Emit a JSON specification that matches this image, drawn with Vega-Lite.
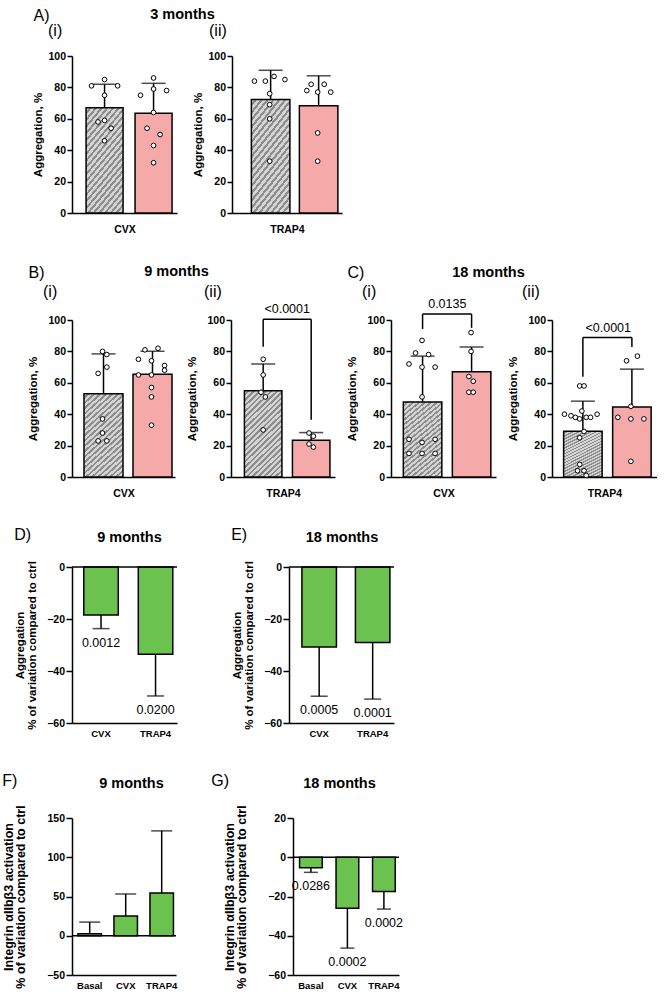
{
"$schema":"https://vega.github.io/schema/vega-lite/v6.json",
"background":"white",
"padding":{"left":2,"top":6,"right":0,"bottom":0},
"config":{
 "font":"Liberation Sans",
 "view":{"stroke":null},
 "axis":{"grid":false,"domainColor":"black","domainWidth":1.5,"tickColor":"black","tickWidth":1.5,"labelColor":"black","labelFontWeight":"bold","titleColor":"black","titleFontWeight":"bold","labelFont":"Liberation Sans","titleFont":"Liberation Sans","labelOverlap":false},
 "title":{"font":"Liberation Sans","color":"black"},
 "bar":{"stroke":"black","strokeWidth":1.5,"fill":{"gradient":"linear","x1":0,"y1":0,"x2":0.51,"y2":1.21,"stops":[
{"offset":0,"color":"#d4d4d4"},{"offset":0.025,"color":"#d4d4d4"},{"offset":0.025,"color":"#8c8c8c"},{"offset":0.0455,"color":"#8c8c8c"},
{"offset":0.0455,"color":"#d4d4d4"},{"offset":0.0705,"color":"#d4d4d4"},{"offset":0.0705,"color":"#8c8c8c"},{"offset":0.0909,"color":"#8c8c8c"},
{"offset":0.0909,"color":"#d4d4d4"},{"offset":0.1159,"color":"#d4d4d4"},{"offset":0.1159,"color":"#8c8c8c"},{"offset":0.1364,"color":"#8c8c8c"},
{"offset":0.1364,"color":"#d4d4d4"},{"offset":0.1614,"color":"#d4d4d4"},{"offset":0.1614,"color":"#8c8c8c"},{"offset":0.1818,"color":"#8c8c8c"},
{"offset":0.1818,"color":"#d4d4d4"},{"offset":0.2068,"color":"#d4d4d4"},{"offset":0.2068,"color":"#8c8c8c"},{"offset":0.2273,"color":"#8c8c8c"},
{"offset":0.2273,"color":"#d4d4d4"},{"offset":0.2523,"color":"#d4d4d4"},{"offset":0.2523,"color":"#8c8c8c"},{"offset":0.2727,"color":"#8c8c8c"},
{"offset":0.2727,"color":"#d4d4d4"},{"offset":0.2977,"color":"#d4d4d4"},{"offset":0.2977,"color":"#8c8c8c"},{"offset":0.3182,"color":"#8c8c8c"},
{"offset":0.3182,"color":"#d4d4d4"},{"offset":0.3432,"color":"#d4d4d4"},{"offset":0.3432,"color":"#8c8c8c"},{"offset":0.3636,"color":"#8c8c8c"},
{"offset":0.3636,"color":"#d4d4d4"},{"offset":0.3886,"color":"#d4d4d4"},{"offset":0.3886,"color":"#8c8c8c"},{"offset":0.4091,"color":"#8c8c8c"},
{"offset":0.4091,"color":"#d4d4d4"},{"offset":0.4341,"color":"#d4d4d4"},{"offset":0.4341,"color":"#8c8c8c"},{"offset":0.4545,"color":"#8c8c8c"},
{"offset":0.4545,"color":"#d4d4d4"},{"offset":0.4795,"color":"#d4d4d4"},{"offset":0.4795,"color":"#8c8c8c"},{"offset":0.5,"color":"#8c8c8c"},
{"offset":0.5,"color":"#d4d4d4"},{"offset":0.525,"color":"#d4d4d4"},{"offset":0.525,"color":"#8c8c8c"},{"offset":0.5455,"color":"#8c8c8c"},
{"offset":0.5455,"color":"#d4d4d4"},{"offset":0.5705,"color":"#d4d4d4"},{"offset":0.5705,"color":"#8c8c8c"},{"offset":0.5909,"color":"#8c8c8c"},
{"offset":0.5909,"color":"#d4d4d4"},{"offset":0.6159,"color":"#d4d4d4"},{"offset":0.6159,"color":"#8c8c8c"},{"offset":0.6364,"color":"#8c8c8c"},
{"offset":0.6364,"color":"#d4d4d4"},{"offset":0.6614,"color":"#d4d4d4"},{"offset":0.6614,"color":"#8c8c8c"},{"offset":0.6818,"color":"#8c8c8c"},
{"offset":0.6818,"color":"#d4d4d4"},{"offset":0.7068,"color":"#d4d4d4"},{"offset":0.7068,"color":"#8c8c8c"},{"offset":0.7273,"color":"#8c8c8c"},
{"offset":0.7273,"color":"#d4d4d4"},{"offset":0.7523,"color":"#d4d4d4"},{"offset":0.7523,"color":"#8c8c8c"},{"offset":0.7727,"color":"#8c8c8c"},
{"offset":0.7727,"color":"#d4d4d4"},{"offset":0.7977,"color":"#d4d4d4"},{"offset":0.7977,"color":"#8c8c8c"},{"offset":0.8182,"color":"#8c8c8c"},
{"offset":0.8182,"color":"#d4d4d4"},{"offset":0.8432,"color":"#d4d4d4"},{"offset":0.8432,"color":"#8c8c8c"},{"offset":0.8636,"color":"#8c8c8c"},
{"offset":0.8636,"color":"#d4d4d4"},{"offset":0.8886,"color":"#d4d4d4"},{"offset":0.8886,"color":"#8c8c8c"},{"offset":0.9091,"color":"#8c8c8c"},
{"offset":0.9091,"color":"#d4d4d4"},{"offset":0.9341,"color":"#d4d4d4"},{"offset":0.9341,"color":"#8c8c8c"},{"offset":0.9545,"color":"#8c8c8c"},
{"offset":0.9545,"color":"#d4d4d4"},{"offset":0.9795,"color":"#d4d4d4"},{"offset":0.9795,"color":"#8c8c8c"},{"offset":1,"color":"#8c8c8c"}
]}}
},
"datasets":{
 "bars":[
  {"panel":"A1","grp":"ctrl","mean":67,"sd_end":82},
  {"panel":"A1","grp":"treated","mean":63.5,"sd_end":82.6},
  {"panel":"A2","grp":"ctrl","mean":72.3,"sd_end":90.9},
  {"panel":"A2","grp":"treated","mean":68.3,"sd_end":87.4},
  {"panel":"B1","grp":"ctrl","mean":53,"sd_end":78.4},
  {"panel":"B1","grp":"treated","mean":65.4,"sd_end":80.1},
  {"panel":"B2","grp":"ctrl","mean":55,"sd_end":72},
  {"panel":"B2","grp":"treated","mean":23.4,"sd_end":28.3},
  {"panel":"C1","grp":"ctrl","mean":47.8,"sd_end":77},
  {"panel":"C1","grp":"treated","mean":67.1,"sd_end":82.8},
  {"panel":"C2","grp":"ctrl","mean":29.2,"sd_end":48.3},
  {"panel":"C2","grp":"treated","mean":44.6,"sd_end":68.7}
 ],
 "points":[
  {"panel":"A1","grp":"ctrl","value":81,"slot":-6},{"panel":"A1","grp":"ctrl","value":85,"slot":0},{"panel":"A1","grp":"ctrl","value":81,"slot":6},{"panel":"A1","grp":"ctrl","value":75,"slot":0},{"panel":"A1","grp":"ctrl","value":59,"slot":0},{"panel":"A1","grp":"ctrl","value":58,"slot":-3},{"panel":"A1","grp":"ctrl","value":54,"slot":3},{"panel":"A1","grp":"ctrl","value":46,"slot":0},
  {"panel":"A1","grp":"treated","value":75,"slot":-6},{"panel":"A1","grp":"treated","value":86,"slot":0},{"panel":"A1","grp":"treated","value":79,"slot":0},{"panel":"A1","grp":"treated","value":78,"slot":6},{"panel":"A1","grp":"treated","value":64,"slot":0},{"panel":"A1","grp":"treated","value":54,"slot":-3},{"panel":"A1","grp":"treated","value":50,"slot":3},{"panel":"A1","grp":"treated","value":43,"slot":0},{"panel":"A1","grp":"treated","value":32,"slot":0},
  {"panel":"A2","grp":"ctrl","value":84,"slot":-7},{"panel":"A2","grp":"ctrl","value":84,"slot":-2},{"panel":"A2","grp":"ctrl","value":87,"slot":2},{"panel":"A2","grp":"ctrl","value":85,"slot":7},{"panel":"A2","grp":"ctrl","value":76,"slot":0},{"panel":"A2","grp":"ctrl","value":69,"slot":0},{"panel":"A2","grp":"ctrl","value":60,"slot":0},{"panel":"A2","grp":"ctrl","value":33,"slot":0},
  {"panel":"A2","grp":"treated","value":78,"slot":-5},{"panel":"A2","grp":"treated","value":82,"slot":-3},{"panel":"A2","grp":"treated","value":77,"slot":0},{"panel":"A2","grp":"treated","value":82,"slot":3},{"panel":"A2","grp":"treated","value":77,"slot":6},{"panel":"A2","grp":"treated","value":51,"slot":0},{"panel":"A2","grp":"treated","value":33,"slot":0},
  {"panel":"B1","grp":"ctrl","value":80,"slot":0},{"panel":"B1","grp":"ctrl","value":78,"slot":2},{"panel":"B1","grp":"ctrl","value":70,"slot":2},{"panel":"B1","grp":"ctrl","value":66,"slot":-2},{"panel":"B1","grp":"ctrl","value":37,"slot":0},{"panel":"B1","grp":"ctrl","value":28,"slot":0},{"panel":"B1","grp":"ctrl","value":23,"slot":-2},{"panel":"B1","grp":"ctrl","value":23,"slot":2},
  {"panel":"B1","grp":"treated","value":81,"slot":-3},{"panel":"B1","grp":"treated","value":82,"slot":3},{"panel":"B1","grp":"treated","value":75,"slot":-6},{"panel":"B1","grp":"treated","value":74,"slot":0},{"panel":"B1","grp":"treated","value":71,"slot":6},{"panel":"B1","grp":"treated","value":68,"slot":6},{"panel":"B1","grp":"treated","value":65,"slot":-6},{"panel":"B1","grp":"treated","value":65,"slot":0},{"panel":"B1","grp":"treated","value":57,"slot":0},{"panel":"B1","grp":"treated","value":51,"slot":0},{"panel":"B1","grp":"treated","value":33,"slot":0},
  {"panel":"B2","grp":"ctrl","value":75,"slot":0},{"panel":"B2","grp":"ctrl","value":65,"slot":0},{"panel":"B2","grp":"ctrl","value":54,"slot":-1},{"panel":"B2","grp":"ctrl","value":51,"slot":1},{"panel":"B2","grp":"ctrl","value":30,"slot":0},
  {"panel":"B2","grp":"treated","value":28,"slot":-1},{"panel":"B2","grp":"treated","value":26,"slot":1},{"panel":"B2","grp":"treated","value":21,"slot":-1},{"panel":"B2","grp":"treated","value":19,"slot":1},
  {"panel":"C1","grp":"ctrl","value":87,"slot":0},{"panel":"C1","grp":"ctrl","value":79,"slot":-3},{"panel":"C1","grp":"ctrl","value":78,"slot":3},{"panel":"C1","grp":"ctrl","value":72,"slot":-6},{"panel":"C1","grp":"ctrl","value":70,"slot":0},{"panel":"C1","grp":"ctrl","value":70,"slot":6},{"panel":"C1","grp":"ctrl","value":51,"slot":0},{"panel":"C1","grp":"ctrl","value":24,"slot":-6},{"panel":"C1","grp":"ctrl","value":22,"slot":0},{"panel":"C1","grp":"ctrl","value":24,"slot":6},{"panel":"C1","grp":"ctrl","value":15,"slot":-6},{"panel":"C1","grp":"ctrl","value":15,"slot":0},{"panel":"C1","grp":"ctrl","value":15,"slot":6},
  {"panel":"C1","grp":"treated","value":92,"slot":0},{"panel":"C1","grp":"treated","value":80,"slot":0},{"panel":"C1","grp":"treated","value":64,"slot":-1},{"panel":"C1","grp":"treated","value":61,"slot":1},{"panel":"C1","grp":"treated","value":54,"slot":-1},{"panel":"C1","grp":"treated","value":54,"slot":1},
  {"panel":"C2","grp":"ctrl","value":58,"slot":-1},{"panel":"C2","grp":"ctrl","value":58,"slot":1},{"panel":"C2","grp":"ctrl","value":42,"slot":0},{"panel":"C2","grp":"ctrl","value":40,"slot":-8},{"panel":"C2","grp":"ctrl","value":39,"slot":-5},{"panel":"C2","grp":"ctrl","value":38,"slot":-3},{"panel":"C2","grp":"ctrl","value":37,"slot":-1},{"panel":"C2","grp":"ctrl","value":38,"slot":2},{"panel":"C2","grp":"ctrl","value":38,"slot":4},{"panel":"C2","grp":"ctrl","value":40,"slot":7},{"panel":"C2","grp":"ctrl","value":29,"slot":1},{"panel":"C2","grp":"ctrl","value":25,"slot":-1},{"panel":"C2","grp":"ctrl","value":8,"slot":-1},{"panel":"C2","grp":"ctrl","value":4,"slot":-2},{"panel":"C2","grp":"ctrl","value":4,"slot":1},{"panel":"C2","grp":"ctrl","value":1,"slot":2},
  {"panel":"C2","grp":"treated","value":74,"slot":-2},{"panel":"C2","grp":"treated","value":77,"slot":3},{"panel":"C2","grp":"treated","value":38,"slot":-6},{"panel":"C2","grp":"treated","value":45,"slot":0},{"panel":"C2","grp":"treated","value":37,"slot":0},{"panel":"C2","grp":"treated","value":37,"slot":6},{"panel":"C2","grp":"treated","value":10,"slot":0}
 ],
 "brackets":[
  {"panel":"B2","from":"ctrl","to":"treated","top":100.5,"left_end":83,"right_end":36.5,"label":"<0.0001"},
  {"panel":"C1","from":"ctrl","to":"treated","top":103.8,"left_end":94.3,"right_end":95,"label":"0.0135"},
  {"panel":"C2","from":"ctrl","to":"treated","top":88.8,"left_end":63.9,"right_end":82.8,"label":"<0.0001"}
 ],
 "pct":[
  {"panel":"D","cond":"CVX","mean":-18.5,"err":-23.7,"p":"0.0012"},
  {"panel":"D","cond":"TRAP4","mean":-33.6,"err":-49.6,"p":"0.0200"},
  {"panel":"E","cond":"CVX","mean":-30.8,"err":-49.7,"p":"0.0005"},
  {"panel":"E","cond":"TRAP4","mean":-29,"err":-50.8,"p":"0.0001"},
  {"panel":"F","cond":"Basal","mean":2.5,"err":17.4},
  {"panel":"F","cond":"CVX","mean":25.1,"err":53.2},
  {"panel":"F","cond":"TRAP4","mean":54.5,"err":133.6},
  {"panel":"G","cond":"Basal","mean":-5.4,"err":-7.7,"p":"0.0286"},
  {"panel":"G","cond":"CVX","mean":-26,"err":-46.3,"p":"0.0002"},
  {"panel":"G","cond":"TRAP4","mean":-17.4,"err":-26.4,"p":"0.0002"}
 ]
},
"columns":1,
"align":"none",
"spacing":35,
"concat":[
 {"columns":1,"align":"none","spacing":28,
  "concat":[
 {"bounds":"flush","spacing":55,
  "hconcat":[
   {"width":105,"height":157,
    "title":{"text":"(i)","anchor":"start","frame":"group","dx":-24,"fontSize":16,"fontWeight":"normal","offset":-32},
    "resolve":{"axis":{"x":"independent"}},
    "layer":[
     {"data":{"name":"bars"},"transform":[{"filter":"datum.panel==='A1' && datum.grp==='ctrl'"}],"mark":{"type":"bar","size":37},"encoding":{"x":{"field":"grp","type":"nominal","scale":{"type":"band","domain":["ctrl","treated"],"paddingInner":0.245,"paddingOuter":0.194,"align":0.74},"axis":{"orient":"bottom","title":"CVX","labels":false,"ticks":false,"titleFontSize":10.5,"titlePadding":11}},"y":{"field":"mean","type":"quantitative","scale":{"domain":[0,100],"nice":false},"axis":{"title":"Aggregation, %","values":[0,20,40,60,80,100],"tickCount":12,"labelOverlap":false,"titleFontSize":11.5,"labelFontSize":10.5,"tickSize":5,"labelPadding":1.5,"titlePadding":4.5}}}},
     {"data":{"name":"bars"},"transform":[{"filter":"datum.panel==='A1' && datum.grp==='treated'"}],"mark":{"type":"bar","fill":"#f5a9a9","size":37},"encoding":{"x":{"field":"grp","type":"nominal","axis":null},"y":{"field":"mean","type":"quantitative"}}},
     {"data":{"name":"bars"},"transform":[{"filter":"datum.panel==='A1'"}],"mark":{"type":"rule","color":"black","strokeWidth":1.5},"encoding":{"x":{"field":"grp","type":"nominal","axis":null},"y":{"field":"mean","type":"quantitative"},"y2":{"field":"sd_end"}}},
     {"data":{"name":"bars"},"transform":[{"filter":"datum.panel==='A1'"}],"mark":{"type":"tick","color":"black","thickness":1.5,"size":24},"encoding":{"x":{"field":"grp","type":"nominal","axis":{"orient":"top","title":"A)","labels":false,"ticks":false,"domain":false,"titleX":-39,"titleY":-36,"titleAlign":"left","titleBaseline":"alphabetic","titleFontSize":16,"titleFontWeight":"normal"}},"y":{"field":"sd_end","type":"quantitative"}}},
     {"data":{"name":"points"},"transform":[{"filter":"datum.panel==='A1'"}],"mark":{"type":"point","shape":"circle","filled":true,"fill":"white","stroke":"black","strokeWidth":1,"size":22,"opacity":1},"encoding":{"x":{"field":"grp","type":"nominal","axis":null},"y":{"field":"value","type":"quantitative"},"xOffset":{"field":"slot","type":"ordinal","scale":{"domain":[-8,-7,-6,-5,-4,-3,-2,-1,0,1,2,3,4,5,6,7,8]}}}}
    ]},
   {"width":110,"height":157,
    "title":{"text":"(ii)","anchor":"start","frame":"group","dx":-23,"fontSize":16,"fontWeight":"normal","offset":-33},
    "resolve":{"axis":{"x":"independent"}},
    "layer":[
     {"data":{"name":"bars"},"transform":[{"filter":"datum.panel==='A2' && datum.grp==='ctrl'"}],"mark":{"type":"bar","size":38.5},"encoding":{"x":{"field":"grp","type":"nominal","scale":{"type":"band","domain":["ctrl","treated"],"paddingInner":0.19,"paddingOuter":0.241,"align":0.83},"axis":{"orient":"bottom","title":"TRAP4","labels":false,"ticks":false,"titleFontSize":10.5,"titlePadding":11}},"y":{"field":"mean","type":"quantitative","scale":{"domain":[0,100],"nice":false},"axis":{"title":"Aggregation, %","values":[0,20,40,60,80,100],"tickCount":12,"labelOverlap":false,"titleFontSize":11.5,"labelFontSize":10.5,"tickSize":5,"labelPadding":1.5,"titlePadding":4.5}}}},
     {"data":{"name":"bars"},"transform":[{"filter":"datum.panel==='A2' && datum.grp==='treated'"}],"mark":{"type":"bar","fill":"#f5a9a9","size":38.5},"encoding":{"x":{"field":"grp","type":"nominal","axis":null},"y":{"field":"mean","type":"quantitative"}}},
     {"data":{"name":"bars"},"transform":[{"filter":"datum.panel==='A2'"}],"mark":{"type":"rule","color":"black","strokeWidth":1.5},"encoding":{"x":{"field":"grp","type":"nominal","axis":null},"y":{"field":"mean","type":"quantitative"},"y2":{"field":"sd_end"}}},
     {"data":{"name":"bars"},"transform":[{"filter":"datum.panel==='A2'"}],"mark":{"type":"tick","color":"black","thickness":1.5,"size":24},"encoding":{"x":{"field":"grp","type":"nominal","axis":{"orient":"top","title":"3 months","labels":false,"ticks":false,"domain":false,"titleX":-50,"titleY":-38,"titleAlign":"center","titleBaseline":"alphabetic","titleFontSize":14.5,"titleFontWeight":"bold"}},"y":{"field":"sd_end","type":"quantitative"}}},
     {"data":{"name":"points"},"transform":[{"filter":"datum.panel==='A2'"}],"mark":{"type":"point","shape":"circle","filled":true,"fill":"white","stroke":"black","strokeWidth":1,"size":22,"opacity":1},"encoding":{"x":{"field":"grp","type":"nominal","axis":null},"y":{"field":"value","type":"quantitative"},"xOffset":{"field":"slot","type":"ordinal","scale":{"domain":[-8,-7,-6,-5,-4,-3,-2,-1,0,1,2,3,4,5,6,7,8]}}}}
    ]}
  ]},
 {"bounds":"flush","spacing":56,
  "hconcat":[
     {"width":103,"height":157,
      "title":{"text":"(i)","anchor":"start","frame":"group","dx":-29,"fontSize":16,"fontWeight":"normal","offset":-36},
      "resolve":{"axis":{"x":"independent"}},
      "layer":[
       {"data":{"name":"bars"},"transform":[{"filter":"datum.panel==='B1' && datum.grp==='ctrl'"}],"mark":{"type":"bar","size":39},"encoding":{"x":{"field":"grp","type":"nominal","scale":{"type":"band","domain":["ctrl","treated"],"paddingInner":0.204,"paddingOuter":0.153,"align":0.8},"axis":{"orient":"bottom","title":"CVX","labels":false,"ticks":false,"titleFontSize":10.5,"titlePadding":11}},"y":{"field":"mean","type":"quantitative","scale":{"domain":[0,100],"nice":false},"axis":{"title":"Aggregation, %","values":[0,20,40,60,80,100],"tickCount":12,"labelOverlap":false,"titleFontSize":11.5,"labelFontSize":10.5,"tickSize":5,"labelPadding":1.5,"titlePadding":9.5}}}},
       {"data":{"name":"bars"},"transform":[{"filter":"datum.panel==='B1' && datum.grp==='treated'"}],"mark":{"type":"bar","fill":"#f5a9a9","size":39},"encoding":{"x":{"field":"grp","type":"nominal","axis":null},"y":{"field":"mean","type":"quantitative"}}},
       {"data":{"name":"bars"},"transform":[{"filter":"datum.panel==='B1'"}],"mark":{"type":"rule","color":"black","strokeWidth":1.5},"encoding":{"x":{"field":"grp","type":"nominal","axis":null},"y":{"field":"mean","type":"quantitative"},"y2":{"field":"sd_end"}}},
       {"data":{"name":"bars"},"transform":[{"filter":"datum.panel==='B1'"}],"mark":{"type":"tick","color":"black","thickness":1.5,"size":24},"encoding":{"x":{"field":"grp","type":"nominal","axis":{"orient":"top","title":"B)","labels":false,"ticks":false,"domain":false,"titleX":-44,"titleY":-43,"titleAlign":"left","titleBaseline":"alphabetic","titleFontSize":16,"titleFontWeight":"normal"}},"y":{"field":"sd_end","type":"quantitative"}}},
       {"data":{"name":"points"},"transform":[{"filter":"datum.panel==='B1'"}],"mark":{"type":"point","shape":"circle","filled":true,"fill":"white","stroke":"black","strokeWidth":1,"size":22,"opacity":1},"encoding":{"x":{"field":"grp","type":"nominal","axis":null},"y":{"field":"value","type":"quantitative"},"xOffset":{"field":"slot","type":"ordinal","scale":{"domain":[-8,-7,-6,-5,-4,-3,-2,-1,0,1,2,3,4,5,6,7,8]}}}}
      ]},
     {"width":104,"height":157,
      "title":{"text":"(ii)","anchor":"start","frame":"group","dx":-27,"fontSize":16,"fontWeight":"normal","offset":-37},
      "resolve":{"axis":{"x":"independent"}},
      "layer":[
       {"data":{"name":"bars"},"transform":[{"filter":"datum.panel==='B2' && datum.grp==='ctrl'"}],"mark":{"type":"bar","size":37.5},"encoding":{"x":{"field":"grp","type":"nominal","scale":{"type":"band","domain":["ctrl","treated"],"paddingInner":0.23,"paddingOuter":0.198,"align":0.72},"axis":{"orient":"bottom","title":"TRAP4","labels":false,"ticks":false,"titleFontSize":10.5,"titlePadding":11}},"y":{"field":"mean","type":"quantitative","scale":{"domain":[0,100],"nice":false},"axis":{"title":"Aggregation, %","values":[0,20,40,60,80,100],"tickCount":12,"labelOverlap":false,"titleFontSize":11.5,"labelFontSize":10.5,"tickSize":5,"labelPadding":1.5,"titlePadding":9.5}}}},
       {"data":{"name":"bars"},"transform":[{"filter":"datum.panel==='B2' && datum.grp==='treated'"}],"mark":{"type":"bar","fill":"#f5a9a9","size":37.5},"encoding":{"x":{"field":"grp","type":"nominal","axis":null},"y":{"field":"mean","type":"quantitative"}}},
       {"data":{"name":"bars"},"transform":[{"filter":"datum.panel==='B2'"}],"mark":{"type":"rule","color":"black","strokeWidth":1.5},"encoding":{"x":{"field":"grp","type":"nominal","axis":null},"y":{"field":"mean","type":"quantitative"},"y2":{"field":"sd_end"}}},
       {"data":{"name":"bars"},"transform":[{"filter":"datum.panel==='B2'"}],"mark":{"type":"tick","color":"black","thickness":1.5,"size":24},"encoding":{"x":{"field":"grp","type":"nominal","axis":{"orient":"top","title":"9 months","labels":false,"ticks":false,"domain":false,"titleX":-55,"titleY":-45,"titleAlign":"center","titleBaseline":"alphabetic","titleFontSize":14.5,"titleFontWeight":"bold"}},"y":{"field":"sd_end","type":"quantitative"}}},
       {"data":{"name":"points"},"transform":[{"filter":"datum.panel==='B2'"}],"mark":{"type":"point","shape":"circle","filled":true,"fill":"white","stroke":"black","strokeWidth":1,"size":22,"opacity":1},"encoding":{"x":{"field":"grp","type":"nominal","axis":null},"y":{"field":"value","type":"quantitative"},"xOffset":{"field":"slot","type":"ordinal","scale":{"domain":[-8,-7,-6,-5,-4,-3,-2,-1,0,1,2,3,4,5,6,7,8]}}}},
       {"data":{"name":"brackets"},"transform":[{"filter":"datum.panel==='B2'"}],"mark":{"type":"rule","color":"black","strokeWidth":1.5},"encoding":{"x":{"field":"from","type":"nominal","axis":null},"x2":{"field":"to"},"y":{"field":"top","type":"quantitative"}}},
       {"data":{"name":"brackets"},"transform":[{"filter":"datum.panel==='B2'"}],"mark":{"type":"rule","color":"black","strokeWidth":1.5},"encoding":{"x":{"field":"from","type":"nominal","axis":null},"y":{"field":"top","type":"quantitative"},"y2":{"field":"left_end"}}},
       {"data":{"name":"brackets"},"transform":[{"filter":"datum.panel==='B2'"}],"mark":{"type":"rule","color":"black","strokeWidth":1.5},"encoding":{"x":{"field":"to","type":"nominal","axis":null},"y":{"field":"top","type":"quantitative"},"y2":{"field":"right_end"}}},
       {"data":{"name":"brackets"},"transform":[{"filter":"datum.panel==='B2'"}],"mark":{"type":"text","dy":-6,"baseline":"alphabetic","fontSize":12.5,"color":"black"},"encoding":{"x":{"field":"from","type":"nominal","bandPosition":1.15,"axis":null},"y":{"field":"top","type":"quantitative"},"text":{"field":"label"}}}
      ]},
     {"width":105,"height":157,
      "title":{"text":"(i)","anchor":"start","frame":"group","dx":-29,"fontSize":16,"fontWeight":"normal","offset":-36},
      "resolve":{"axis":{"x":"independent"}},
      "layer":[
       {"data":{"name":"bars"},"transform":[{"filter":"datum.panel==='C1' && datum.grp==='ctrl'"}],"mark":{"type":"bar","size":38.5},"encoding":{"x":{"field":"grp","type":"nominal","scale":{"type":"band","domain":["ctrl","treated"],"paddingInner":0.224,"paddingOuter":0.183,"align":0.7},"axis":{"orient":"bottom","title":"CVX","labels":false,"ticks":false,"titleFontSize":10.5,"titlePadding":11}},"y":{"field":"mean","type":"quantitative","scale":{"domain":[0,100],"nice":false},"axis":{"title":"Aggregation, %","values":[0,20,40,60,80,100],"tickCount":12,"labelOverlap":false,"titleFontSize":11.5,"labelFontSize":10.5,"tickSize":5,"labelPadding":1.5,"titlePadding":9.5}}}},
       {"data":{"name":"bars"},"transform":[{"filter":"datum.panel==='C1' && datum.grp==='treated'"}],"mark":{"type":"bar","fill":"#f5a9a9","size":38.5},"encoding":{"x":{"field":"grp","type":"nominal","axis":null},"y":{"field":"mean","type":"quantitative"}}},
       {"data":{"name":"bars"},"transform":[{"filter":"datum.panel==='C1'"}],"mark":{"type":"rule","color":"black","strokeWidth":1.5},"encoding":{"x":{"field":"grp","type":"nominal","axis":null},"y":{"field":"mean","type":"quantitative"},"y2":{"field":"sd_end"}}},
       {"data":{"name":"bars"},"transform":[{"filter":"datum.panel==='C1'"}],"mark":{"type":"tick","color":"black","thickness":1.5,"size":24},"encoding":{"x":{"field":"grp","type":"nominal","axis":{"orient":"top","title":"C)","labels":false,"ticks":false,"domain":false,"titleX":-44,"titleY":-43,"titleAlign":"left","titleBaseline":"alphabetic","titleFontSize":16,"titleFontWeight":"normal"}},"y":{"field":"sd_end","type":"quantitative"}}},
       {"data":{"name":"points"},"transform":[{"filter":"datum.panel==='C1'"}],"mark":{"type":"point","shape":"circle","filled":true,"fill":"white","stroke":"black","strokeWidth":1,"size":22,"opacity":1},"encoding":{"x":{"field":"grp","type":"nominal","axis":null},"y":{"field":"value","type":"quantitative"},"xOffset":{"field":"slot","type":"ordinal","scale":{"domain":[-8,-7,-6,-5,-4,-3,-2,-1,0,1,2,3,4,5,6,7,8]}}}},
       {"data":{"name":"brackets"},"transform":[{"filter":"datum.panel==='C1'"}],"mark":{"type":"rule","color":"black","strokeWidth":1.5},"encoding":{"x":{"field":"from","type":"nominal","axis":null},"x2":{"field":"to"},"y":{"field":"top","type":"quantitative"}}},
       {"data":{"name":"brackets"},"transform":[{"filter":"datum.panel==='C1'"}],"mark":{"type":"rule","color":"black","strokeWidth":1.5},"encoding":{"x":{"field":"from","type":"nominal","axis":null},"y":{"field":"top","type":"quantitative"},"y2":{"field":"left_end"}}},
       {"data":{"name":"brackets"},"transform":[{"filter":"datum.panel==='C1'"}],"mark":{"type":"rule","color":"black","strokeWidth":1.5},"encoding":{"x":{"field":"to","type":"nominal","axis":null},"y":{"field":"top","type":"quantitative"},"y2":{"field":"right_end"}}},
       {"data":{"name":"brackets"},"transform":[{"filter":"datum.panel==='C1'"}],"mark":{"type":"text","dy":-6,"baseline":"alphabetic","fontSize":12.5,"color":"black"},"encoding":{"x":{"field":"from","type":"nominal","bandPosition":1.15,"axis":null},"y":{"field":"top","type":"quantitative"},"text":{"field":"label"}}}
      ]},
     {"width":105,"height":157,
      "title":{"text":"(ii)","anchor":"start","frame":"group","dx":-30,"fontSize":16,"fontWeight":"normal","offset":-36},
      "resolve":{"axis":{"x":"independent"}},
      "layer":[
       {"data":{"name":"bars"},"transform":[{"filter":"datum.panel==='C2' && datum.grp==='ctrl'"}],"mark":{"type":"bar","size":38.5},"encoding":{"x":{"field":"grp","type":"nominal","scale":{"type":"band","domain":["ctrl","treated"],"paddingInner":0.204,"paddingOuter":0.173,"align":0.67},"axis":{"orient":"bottom","title":"TRAP4","labels":false,"ticks":false,"titleFontSize":10.5,"titlePadding":11}},"y":{"field":"mean","type":"quantitative","scale":{"domain":[0,100],"nice":false},"axis":{"title":"Aggregation, %","values":[0,20,40,60,80,100],"tickCount":12,"labelOverlap":false,"titleFontSize":11.5,"labelFontSize":10.5,"tickSize":5,"labelPadding":1.5,"titlePadding":9.5}}}},
       {"data":{"name":"bars"},"transform":[{"filter":"datum.panel==='C2' && datum.grp==='treated'"}],"mark":{"type":"bar","fill":"#f5a9a9","size":38.5},"encoding":{"x":{"field":"grp","type":"nominal","axis":null},"y":{"field":"mean","type":"quantitative"}}},
       {"data":{"name":"bars"},"transform":[{"filter":"datum.panel==='C2'"}],"mark":{"type":"rule","color":"black","strokeWidth":1.5},"encoding":{"x":{"field":"grp","type":"nominal","axis":null},"y":{"field":"mean","type":"quantitative"},"y2":{"field":"sd_end"}}},
       {"data":{"name":"bars"},"transform":[{"filter":"datum.panel==='C2'"}],"mark":{"type":"tick","color":"black","thickness":1.5,"size":24},"encoding":{"x":{"field":"grp","type":"nominal","axis":{"orient":"top","title":"18 months","labels":false,"ticks":false,"domain":false,"titleX":-64,"titleY":-44,"titleAlign":"center","titleBaseline":"alphabetic","titleFontSize":14.5,"titleFontWeight":"bold"}},"y":{"field":"sd_end","type":"quantitative"}}},
       {"data":{"name":"points"},"transform":[{"filter":"datum.panel==='C2'"}],"mark":{"type":"point","shape":"circle","filled":true,"fill":"white","stroke":"black","strokeWidth":1,"size":22,"opacity":1},"encoding":{"x":{"field":"grp","type":"nominal","axis":null},"y":{"field":"value","type":"quantitative"},"xOffset":{"field":"slot","type":"ordinal","scale":{"domain":[-8,-7,-6,-5,-4,-3,-2,-1,0,1,2,3,4,5,6,7,8]}}}},
       {"data":{"name":"brackets"},"transform":[{"filter":"datum.panel==='C2'"}],"mark":{"type":"rule","color":"black","strokeWidth":1.5},"encoding":{"x":{"field":"from","type":"nominal","axis":null},"x2":{"field":"to"},"y":{"field":"top","type":"quantitative"}}},
       {"data":{"name":"brackets"},"transform":[{"filter":"datum.panel==='C2'"}],"mark":{"type":"rule","color":"black","strokeWidth":1.5},"encoding":{"x":{"field":"from","type":"nominal","axis":null},"y":{"field":"top","type":"quantitative"},"y2":{"field":"left_end"}}},
       {"data":{"name":"brackets"},"transform":[{"filter":"datum.panel==='C2'"}],"mark":{"type":"rule","color":"black","strokeWidth":1.5},"encoding":{"x":{"field":"to","type":"nominal","axis":null},"y":{"field":"top","type":"quantitative"},"y2":{"field":"right_end"}}},
       {"data":{"name":"brackets"},"transform":[{"filter":"datum.panel==='C2'"}],"mark":{"type":"text","dy":-6,"baseline":"alphabetic","fontSize":12.5,"color":"black"},"encoding":{"x":{"field":"from","type":"nominal","bandPosition":1.15,"axis":null},"y":{"field":"top","type":"quantitative"},"text":{"field":"label"}}}
      ]}
  ]},
 {"bounds":"flush","spacing":112,
  "hconcat":[
     {"width":105,"height":156,
      "title":{"text":"D)","anchor":"start","fontSize":16,"fontWeight":"normal","offset":-14},
      "resolve":{"axis":{"x":"independent"}},
      "layer":[
       {"data":{"name":"pct"},"transform":[{"filter":"datum.panel==='D'"}],"mark":{"type":"bar","fill":"#6cc24f","size":34.5},"encoding":{"x":{"field":"cond","type":"nominal","title":null,"scale":{"type":"band","domain":["CVX","TRAP4"],"paddingInner":0.376,"paddingOuter":0.151,"align":0.73},"axis":{"orient":"bottom","ticks":false,"labelAngle":0,"labelFontSize":9.5,"labelPadding":5}},"y":{"field":"mean","type":"quantitative","scale":{"domain":[-60,0],"nice":false},"axis":{"title":["Aggregation","% of variation compared to ctrl"],"values":[0,-20,-40,-60],"tickCount":12,"labelOverlap":false,"titleFontSize":11.5,"titleLineHeight":12.5,"labelFontSize":10.5,"tickSize":6,"labelPadding":1.5,"titlePadding":9}}}},
       {"data":{"name":"pct"},"transform":[{"filter":"datum.panel==='D'"}],"mark":{"type":"rule","color":"black","strokeWidth":1.5},"encoding":{"x":{"field":"cond","type":"nominal","axis":null},"y":{"field":"mean","type":"quantitative"},"y2":{"field":"err"}}},
       {"data":{"name":"pct"},"transform":[{"filter":"datum.panel==='D'"}],"mark":{"type":"tick","color":"black","thickness":1.5,"size":17},"encoding":{"x":{"field":"cond","type":"nominal","axis":null},"y":{"field":"err","type":"quantitative"}}},
       {"data":{"name":"pct"},"transform":[{"filter":"datum.panel==='D'"}],"mark":{"type":"text","baseline":"top","dy":8,"fontSize":12.5,"color":"black"},"encoding":{"x":{"field":"cond","type":"nominal","axis":{"orient":"top","title":"9 months","labels":false,"ticks":false,"domain":false,"titleX":57,"titleFontSize":14.5,"titleFontWeight":"bold","titlePadding":23}},"y":{"field":"err","type":"quantitative"},"text":{"field":"p"}}},
       {"data":{"name":"pct"},"transform":[{"filter":"datum.panel==='D' && datum.cond==='CVX'"}],"mark":{"type":"rule","color":"black","strokeWidth":1.5},"encoding":{"y":{"datum":0,"type":"quantitative"}}}
      ]},
     {"width":105,"height":156,
      "title":{"text":"E)","anchor":"start","fontSize":16,"fontWeight":"normal","offset":-14},
      "resolve":{"axis":{"x":"independent"}},
      "layer":[
       {"data":{"name":"pct"},"transform":[{"filter":"datum.panel==='E'"}],"mark":{"type":"bar","fill":"#6cc24f","size":34.5},"encoding":{"x":{"field":"cond","type":"nominal","title":null,"scale":{"type":"band","domain":["CVX","TRAP4"],"paddingInner":0.355,"paddingOuter":0.159,"align":0.76},"axis":{"orient":"bottom","ticks":false,"labelAngle":0,"labelFontSize":9.5,"labelPadding":5}},"y":{"field":"mean","type":"quantitative","scale":{"domain":[-60,0],"nice":false},"axis":{"title":["Aggregation","% of variation compared to ctrl"],"values":[0,-20,-40,-60],"tickCount":12,"labelOverlap":false,"titleFontSize":11.5,"titleLineHeight":12.5,"labelFontSize":10.5,"tickSize":6,"labelPadding":1.5,"titlePadding":9}}}},
       {"data":{"name":"pct"},"transform":[{"filter":"datum.panel==='E'"}],"mark":{"type":"rule","color":"black","strokeWidth":1.5},"encoding":{"x":{"field":"cond","type":"nominal","axis":null},"y":{"field":"mean","type":"quantitative"},"y2":{"field":"err"}}},
       {"data":{"name":"pct"},"transform":[{"filter":"datum.panel==='E'"}],"mark":{"type":"tick","color":"black","thickness":1.5,"size":17},"encoding":{"x":{"field":"cond","type":"nominal","axis":null},"y":{"field":"err","type":"quantitative"}}},
       {"data":{"name":"pct"},"transform":[{"filter":"datum.panel==='E'"}],"mark":{"type":"text","baseline":"top","dy":8,"fontSize":12.5,"color":"black"},"encoding":{"x":{"field":"cond","type":"nominal","axis":{"orient":"top","title":"18 months","labels":false,"ticks":false,"domain":false,"titleFontSize":14.5,"titleFontWeight":"bold","titlePadding":23}},"y":{"field":"err","type":"quantitative"},"text":{"field":"p"}}},
       {"data":{"name":"pct"},"transform":[{"filter":"datum.panel==='E' && datum.cond==='CVX'"}],"mark":{"type":"rule","color":"black","strokeWidth":1.5},"encoding":{"y":{"datum":0,"type":"quantitative"}}}
      ]}
  ]}
  ]},
 {"bounds":"flush","spacing":117,
  "hconcat":[
     {"width":104,"height":157,
      "title":{"text":"F)","anchor":"start","fontSize":16,"fontWeight":"normal","offset":-14},
      "resolve":{"axis":{"x":"independent"}},
      "layer":[
       {"data":{"name":"pct"},"transform":[{"filter":"datum.panel==='F'"}],"mark":{"type":"bar","fill":"#6cc24f","size":23.5},"encoding":{"x":{"field":"cond","type":"nominal","title":null,"scale":{"type":"band","domain":["Basal","CVX","TRAP4"],"paddingInner":0.347,"paddingOuter":0.118,"align":0.7},"axis":{"orient":"bottom","ticks":false,"labelAngle":0,"labelFontSize":9.5,"labelPadding":5}},"y":{"field":"mean","type":"quantitative","scale":{"domain":[-50,150],"nice":false},"axis":{"title":["Integrin \u03b1IIb\u03b23 activation","% of variation compared to ctrl"],"values":[150,100,50,0,-50],"tickCount":12,"labelOverlap":false,"titleFontSize":12.5,"titleLineHeight":12,"labelFontSize":10.5,"tickSize":6,"labelPadding":1.5,"titlePadding":19.5}}}},
       {"data":{"name":"pct"},"transform":[{"filter":"datum.panel==='F'"}],"mark":{"type":"rule","color":"black","strokeWidth":1.5},"encoding":{"x":{"field":"cond","type":"nominal","axis":null},"y":{"field":"mean","type":"quantitative"},"y2":{"field":"err"}}},
       {"data":{"name":"pct"},"transform":[{"filter":"datum.panel==='F'"}],"mark":{"type":"tick","color":"black","thickness":1.5,"size":21},"encoding":{"x":{"field":"cond","type":"nominal","axis":{"orient":"top","title":"9 months","labels":false,"ticks":false,"domain":false,"titleX":59,"titleFontSize":14.5,"titleFontWeight":"bold","titlePadding":28}},"y":{"field":"err","type":"quantitative"}}},
       {"data":{"name":"pct"},"transform":[{"filter":"datum.panel==='F' && datum.cond==='CVX'"}],"mark":{"type":"rule","color":"black","strokeWidth":1.5},"encoding":{"y":{"datum":0,"type":"quantitative"}}}
      ]},
     {"width":106,"height":157,
      "title":{"text":"G)","anchor":"start","fontSize":16,"fontWeight":"normal","offset":-14,"dx":-12},
      "resolve":{"axis":{"x":"independent"}},
      "layer":[
       {"data":{"name":"pct"},"transform":[{"filter":"datum.panel==='G'"}],"mark":{"type":"bar","fill":"#6cc24f","size":22.7},"encoding":{"x":{"field":"cond","type":"nominal","title":null,"scale":{"type":"band","domain":["Basal","CVX","TRAP4"],"paddingInner":0.37,"paddingOuter":0.137,"align":0.64},"axis":{"orient":"bottom","ticks":false,"labelAngle":0,"labelFontSize":9.5,"labelPadding":5}},"y":{"field":"mean","type":"quantitative","scale":{"domain":[-60,20],"nice":false},"axis":{"title":["Integrin \u03b1IIb\u03b23 activation","% of variation compared to ctrl"],"values":[20,0,-20,-40,-60],"tickCount":12,"labelOverlap":false,"titleFontSize":12.5,"titleLineHeight":12,"labelFontSize":10.5,"tickSize":6,"labelPadding":1.5,"titlePadding":19.5}}}},
       {"data":{"name":"pct"},"transform":[{"filter":"datum.panel==='G'"}],"mark":{"type":"rule","color":"black","strokeWidth":1.5},"encoding":{"x":{"field":"cond","type":"nominal","axis":null},"y":{"field":"mean","type":"quantitative"},"y2":{"field":"err"}}},
       {"data":{"name":"pct"},"transform":[{"filter":"datum.panel==='G'"}],"mark":{"type":"tick","color":"black","thickness":1.5,"size":14},"encoding":{"x":{"field":"cond","type":"nominal","axis":null},"y":{"field":"err","type":"quantitative"}}},
       {"data":{"name":"pct"},"transform":[{"filter":"datum.panel==='G'"}],"mark":{"type":"text","baseline":"top","dy":8,"fontSize":12.5,"color":"black"},"encoding":{"x":{"field":"cond","type":"nominal","axis":{"orient":"top","title":"18 months","labels":false,"ticks":false,"domain":false,"titleX":46,"titleFontSize":14.5,"titleFontWeight":"bold","titlePadding":28}},"y":{"field":"err","type":"quantitative"},"text":{"field":"p"}}},
       {"data":{"name":"pct"},"transform":[{"filter":"datum.panel==='G' && datum.cond==='CVX'"}],"mark":{"type":"rule","color":"black","strokeWidth":1.5},"encoding":{"y":{"datum":0,"type":"quantitative"}}}
      ]}
  ]}
]
}
